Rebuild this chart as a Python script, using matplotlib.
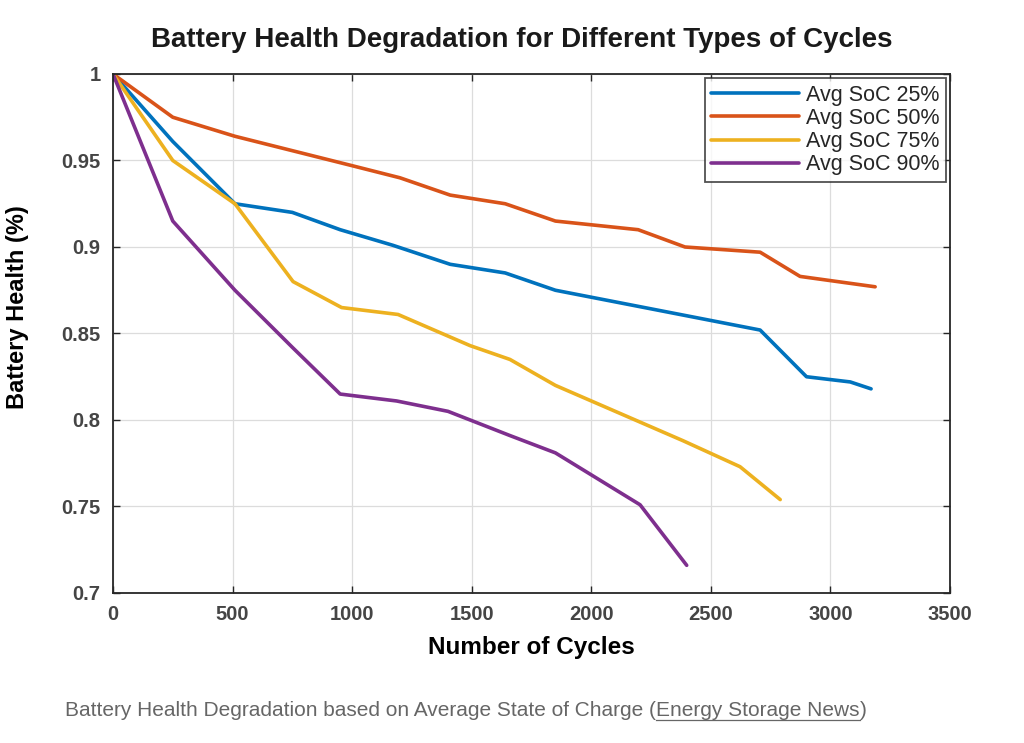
import numpy as np
import matplotlib
matplotlib.use("Agg")
import matplotlib.pyplot as plt
from matplotlib.lines import Line2D

plt.rcParams['font.family'] = ['Liberation Sans', 'DejaVu Sans']

# datos
ciclos_25 = [0, 250, 510, 750, 950, 1170, 1410, 1640, 1850, 2706, 2900, 3083, 3170]
salud_25 = [1.0, 0.961, 0.925, 0.920, 0.910, 0.901, 0.890, 0.885, 0.875, 0.852, 0.825, 0.822, 0.818]

ciclos_50 = [0, 250, 510, 1000, 1200, 1410, 1640, 1850, 2196, 2392, 2706, 2873, 3187]
salud_50 = [1.0, 0.975, 0.964, 0.947, 0.940, 0.930, 0.925, 0.915, 0.910, 0.900, 0.897, 0.883, 0.877]

ciclos_75 = [0, 250, 510, 753, 956, 1192, 1493, 1660, 1850, 2384, 2622, 2790]
salud_75 = [1.0, 0.950, 0.925, 0.880, 0.865, 0.861, 0.843, 0.835, 0.820, 0.788, 0.773, 0.754]

ciclos_90 = [0, 250, 510, 750, 950, 1186, 1401, 1660, 1850, 2204, 2399]
salud_90 = [1.0, 0.915, 0.875, 0.842, 0.815, 0.811, 0.805, 0.791, 0.781, 0.751, 0.716]

etiquetas = ["Avg SoC 25%", "Avg SoC 50%", "Avg SoC 75%", "Avg SoC 90%"]
colores = ["#0072BD", "#D95319", "#EDB120", "#7E2F8E"]

fig = plt.figure(figsize=(10.24, 7.43), dpi=100)
ax = fig.add_axes([113/1024, 1-593/743, (950-113)/1024, (593-74)/743])

series = [(ciclos_25, salud_25), (ciclos_50, salud_50), (ciclos_75, salud_75), (ciclos_90, salud_90)]
for (x, y), lab, c in zip(series, etiquetas, colores):
    ax.plot(x, y, color=c, lw=2.6, label=lab, solid_joinstyle='round', solid_capstyle='round')

ax.set_xlim(0, 3500)
ax.set_ylim(0.7, 1.0)
ax.set_xticks(np.arange(0, 3501, 500))
ax.set_yticks([0.7, 0.75, 0.8, 0.85, 0.9, 0.95, 1.0])
ax.set_yticklabels(["0.7", "0.75", "0.8", "0.85", "0.9", "0.95", "1"])
ax.tick_params(direction='in', top=True, right=True, labelsize=14.5, length=5, width=1,
               colors='#262626', labelcolor='#454545')
ax.tick_params(axis='x', pad=9)
ax.tick_params(axis='y', pad=9)
for lbl in ax.get_xticklabels() + ax.get_yticklabels():
    lbl.set_fontweight('bold')
ax.grid(True, color='#dcdcdc', lw=0.9)
for s in ax.spines.values():
    s.set_color('#262626')
    s.set_linewidth(1.3)

ax.set_xlabel("Number of Cycles", fontsize=17.5, fontweight='bold')
ax.set_ylabel("Battery Health (%)", fontsize=17, fontweight='bold')
ax.xaxis.set_label_coords(0.5, (593-636)/519)
ax.yaxis.set_label_coords((29-113)/837, (593-307)/519)
fig.text(522/1024, 1-40/743, "Battery Health Degradation for Different Types of Cycles",
         ha='center', va='center', fontsize=20, fontweight='bold', color='#1a1a1a')

leg = ax.legend(loc='upper right', fontsize=15.5, frameon=True, fancybox=False,
                edgecolor='#262626', handlelength=4.1, borderaxespad=0.2,
                labelspacing=0.1, handletextpad=0.3, borderpad=0.3)
leg.get_frame().set_linewidth(1.3)
for t in leg.get_texts():
    t.set_color('#262626')

# pie de figura con subrayado
tam = 15
gris = '#666666'
t1 = fig.text(65/1024, 1-711/743, "Battery Health Degradation based on Average State of Charge (",
              ha='left', va='center', fontsize=tam, color=gris)
fig.canvas.draw()
r = fig.canvas.get_renderer()
bb = t1.get_window_extent(r)
t2 = fig.text(bb.x1/1024, 1-711/743, "Energy Storage News", ha='left', va='center',
              fontsize=tam, color=gris)
fig.canvas.draw()
bb2 = t2.get_window_extent(r)
t3 = fig.text(bb2.x1/1024, 1-711/743, ")", ha='left', va='center', fontsize=tam, color=gris)
fig.add_artist(Line2D([bb2.x0/1024, bb2.x1/1024], [(bb2.y0+1)/743]*2, color=gris, lw=0.9))

fig.savefig("out.png", dpi=100, facecolor='white')
